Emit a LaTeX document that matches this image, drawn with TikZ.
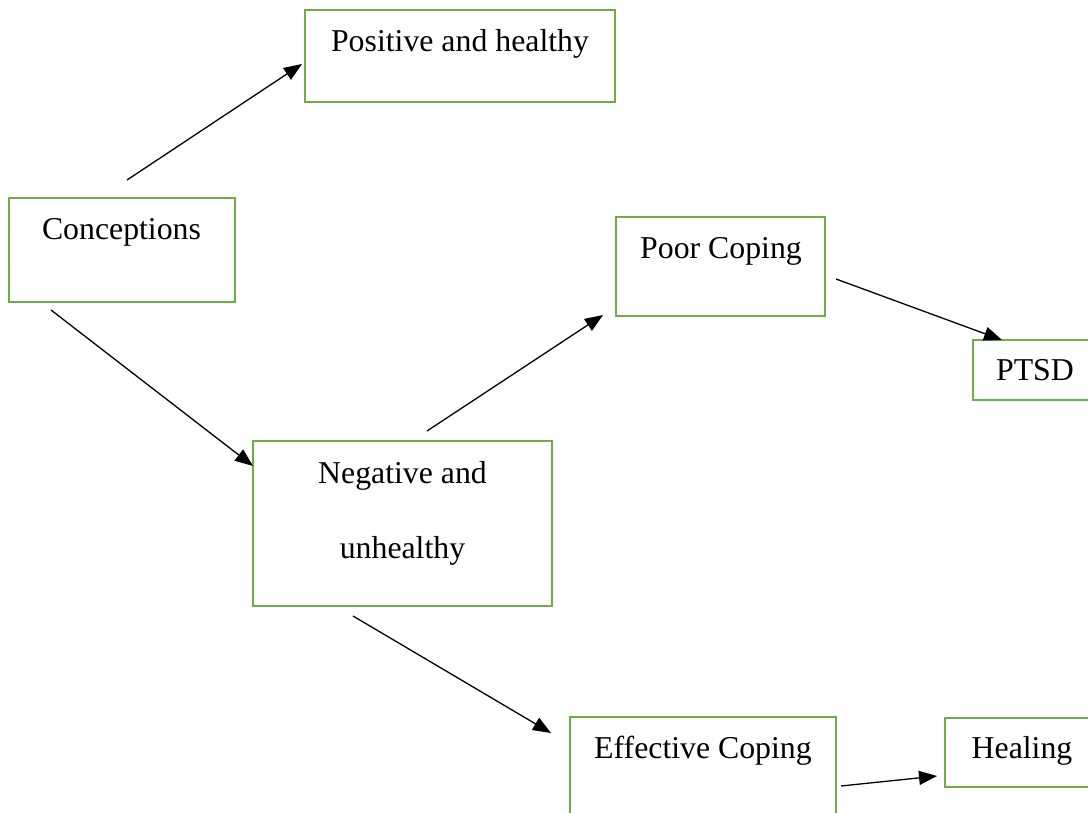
\documentclass[tikz,border=0pt]{standalone}
\usepackage{fontspec}
\setmainfont{Liberation Serif}
\usetikzlibrary{arrows.meta}
\definecolor{boxgreen}{HTML}{70AD47}
\begin{document}
\begin{tikzpicture}[x=1pt,y=-1pt,
  box/.style={draw=boxgreen,line width=2.8pt,rectangle,inner sep=0pt},
  lbl/.style={anchor=base,inner sep=0pt,font=\fontsize{31.8}{38}\selectfont},
  arr/.style={draw=black,line width=1.3pt,-{Triangle[length=18pt,width=14pt]}}]
\useasboundingbox (0,0) rectangle (1088,813);
% boxes
\node[box,minimum width=310pt,minimum height=92pt] (pos) at (460,56) {};
\node[box,minimum width=226pt,minimum height=104pt] (con) at (122,250) {};
\node[box,minimum width=209pt,minimum height=99pt] (poor) at (720.5,266.5) {};
\node[box,minimum width=118pt,minimum height=60pt] (ptsd) at (1032,370) {};
\node[box,minimum width=299pt,minimum height=165pt] (neg) at (402.5,523.5) {};
\node[box,minimum width=266pt,minimum height=99pt] (eff) at (703,766.5) {};
\node[box,minimum width=145pt,minimum height=69pt] (heal) at (1017.5,752.5) {};
% texts
\node[lbl] (tpos) at (460,52) {Positive and healthy};
\node[lbl] (tcon) at (121.5,239.5) {Conceptions};
\node[lbl] (tpoor) at (721,259) {Poor Coping};
\node[lbl] (tptsd) at (1035,380) {PTSD};
\node[lbl] (tneg1) at (402.5,483) {Negative and};
\node[lbl] (tneg2) at (402.5,558) {unhealthy};
\node[lbl] (teff) at (703,758) {Effective Coping};
\node[lbl] (theal) at (1022,758) {Healing};
% connector ends
\coordinate (a1s) at (127,180);
\coordinate (a1e) at (302,64);
\coordinate (a2s) at (51,310);
\coordinate (a2e) at (253,466);
\coordinate (a3s) at (427,431);
\coordinate (a3e) at (603,315);
\coordinate (a4s) at (836,279);
\coordinate (a4e) at (1002,340);
\coordinate (a5s) at (353,616);
\coordinate (a5e) at (551,733);
\coordinate (a6s) at (841,786);
\coordinate (a6e) at (937,776);
% connectors
\draw[arr] (a1s) -- (a1e);
\draw[arr] (a2s) -- (a2e);
\draw[arr] (a3s) -- (a3e);
\draw[arr] (a4s) -- (a4e);
\draw[arr] (a5s) -- (a5e);
\draw[arr] (a6s) -- (a6e);
\end{tikzpicture}
\end{document}
